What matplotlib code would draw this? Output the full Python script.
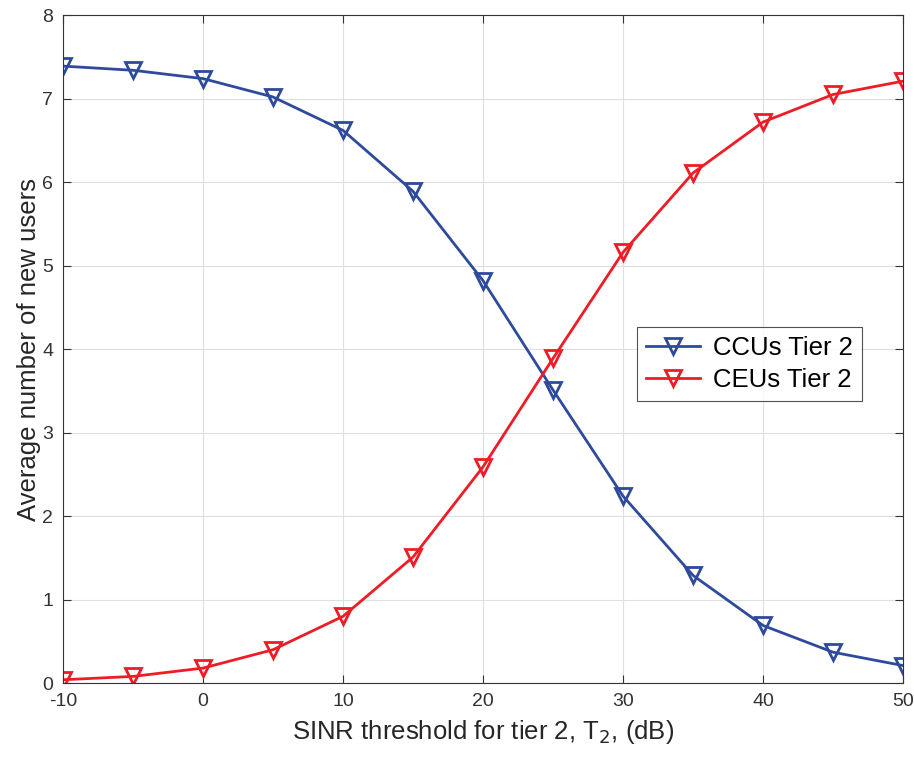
import matplotlib
matplotlib.use("Agg")
import matplotlib.pyplot as plt

x_db = [-10, -5, 0, 5, 10, 15, 20, 25, 30, 35, 40, 45, 50]
ccu_tier2 = [7.39, 7.34, 7.24, 7.02, 6.62, 5.89, 4.82, 3.51, 2.24, 1.29, 0.69, 0.37, 0.21]
ceu_tier2 = [0.04, 0.08, 0.18, 0.40, 0.80, 1.51, 2.59, 3.89, 5.16, 6.11, 6.72, 7.05, 7.21]
x_ticks = [-10, 0, 10, 20, 30, 40, 50]
y_ticks = [0, 1, 2, 3, 4, 5, 6, 7, 8]

plt.rcParams['font.family'] = ['Liberation Sans', 'DejaVu Sans']
plt.rcParams['axes.unicode_minus'] = False

fig = plt.figure(figsize=(9.14, 7.59), dpi=100)
ax = fig.add_axes([0.069, 0.100, 0.919, 0.880])

blue = '#2E4A9C'
red = '#EE1C25'
ax.plot(x_db, ccu_tier2, color=blue, lw=2, marker='v', ms=11, mfc='none', mew=2, label='CCUs Tier 2')
ax.plot(x_db, ceu_tier2, color=red, lw=2, marker='v', ms=11, mfc='none', mew=2, label='CEUs Tier 2')

ax.set_xlim(-10, 50)
ax.set_ylim(0, 8)
ax.set_xticks(x_ticks)
ax.set_yticks(y_ticks)
ax.grid(True, color='#DFDFDF', lw=0.8)
ax.set_axisbelow(True)
ax.tick_params(direction='in', top=True, right=True, length=6, labelsize=14, colors='#333333', pad=7)
for s in ax.spines.values():
    s.set_color('#333333')
    s.set_linewidth(0.8)

ax.set_xlabel('SINR threshold for tier 2, T$_2$, (dB)', fontsize=18.5, color='#262626', labelpad=6)
ax.set_ylabel('Average number of new users', fontsize=18.5, color='#262626', labelpad=1)

leg = ax.legend(loc='upper right', bbox_to_anchor=(862/914, 1 - 327/759), bbox_transform=fig.transFigure,
                fontsize=18.5, frameon=True, fancybox=False, edgecolor='#262626',
                handlelength=2.1, borderpad=0.35, labelspacing=0.3, handletextpad=0.5, borderaxespad=0)
leg.get_frame().set_linewidth(0.8)

fig.savefig('out.png', dpi=100)
